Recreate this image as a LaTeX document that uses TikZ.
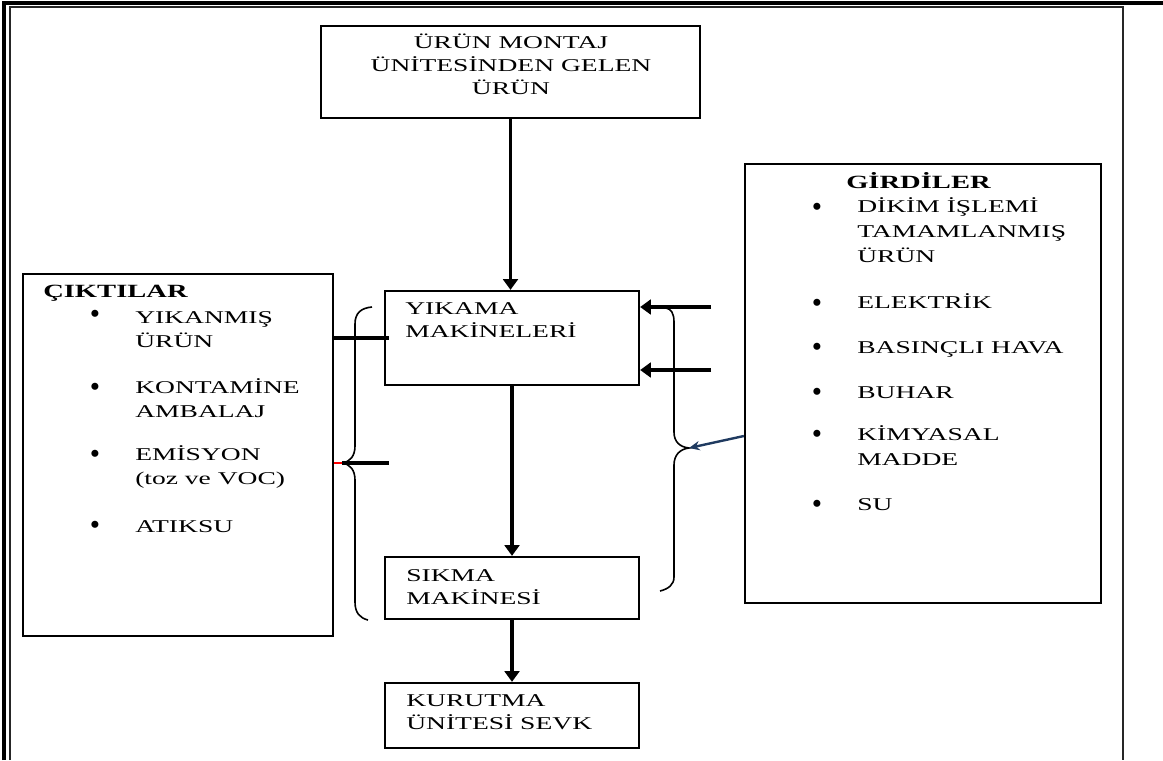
\documentclass[tikz,border=0pt]{standalone}
\usepackage{fontspec}
\setmainfont{Liberation Serif}[FakeStretch=1.53]
\newfontfamily\bulletfont{Liberation Serif}
\usetikzlibrary{arrows.meta,fit}
\definecolor{navy}{HTML}{1F3A60}
\tikzset{
  box/.style={draw=black, line width=1.7pt, inner sep=0pt, fill=none},
  txt/.style={inner sep=0pt, anchor=base west, font=\fontsize{13.5pt}{17.5pt}\selectfont},
  ctxt/.style={inner sep=0pt, anchor=base, font=\fontsize{13.5pt}{17.5pt}\selectfont},
  listtxt/.style={txt, font=\fontsize{13.5pt}{18pt}\selectfont},
  girtxt/.style={txt, font=\fontsize{13.5pt}{19pt}\selectfont},
  head/.style={inner sep=0pt, anchor=base west, font=\fontsize{14pt}{17pt}\selectfont\bfseries},
  bul/.style={inner sep=0pt, anchor=base, text height=9pt, text depth=0pt, font=\bulletfont\fontsize{22pt}{22pt}\selectfont},
  flow/.style={line width=2.8pt, -{Triangle[length=8pt,width=11pt]}},
  plain/.style={line width=2.3pt},
  bracel/.style={line width=1.2pt, black},
  bluearr/.style={line width=1.8pt, navy, -{Stealth[length=8pt,width=7pt]}},
}
\begin{document}
\begin{tikzpicture}[x=0.75pt,y=-0.75pt]
\useasboundingbox (0,0) rectangle (1163,760);
% page frame
\draw[line width=2.4pt] (4,760) -- (4,3) -- (1163,3);
\draw[line width=1.5pt, black!85] (10,760) -- (10,7) -- (1123,7) -- (1123,760);

% boxes
\node[box, fit={(321,26) (700,118)}] (top) {};
\node[box, fit={(385,291) (639,385)}] (yik) {};
\node[box, fit={(385,557) (639,619)}] (sik) {};
\node[box, fit={(385,683) (639,748)}] (kur) {};
\node[box, fit={(23,274) (333,636)}] (cik) {};
\node[box, fit={(745,164) (1101,603)}] (gir) {};

% texts
\node[ctxt] (t1) at (511,48) {ÜRÜN MONTAJ};
\node[ctxt] (t2) at (511,71) {ÜNİTESİNDEN GELEN};
\node[ctxt] (t3) at (511,94) {ÜRÜN};
\node[txt] (yikt) at (405,314) {\vtop{\hbox{YIKAMA}\hbox{MAKİNELERİ}}};
\node[txt] (sikt) at (406,581) {\vtop{\hbox{SIKMA}\hbox{MAKİNESİ}}};
\node[txt] (kurt) at (406,706) {\vtop{\hbox{KURUTMA}\hbox{ÜNİTESİ SEVK}}};

% outputs
\node[head] (cikh) at (43,297) {ÇIKTILAR};
\node[bul] (cb1) at (95,323) {•};
\node[listtxt] (ci1) at (135,323) {\vtop{\hbox{YIKANMIŞ}\hbox{ÜRÜN}}};
\node[bul] (cb2) at (95,396) {•};
\node[listtxt] (ci2) at (135,393) {\vtop{\hbox{KONTAMİNE}\hbox{AMBALAJ}}};
\node[bul] (cb3) at (95,463) {•};
\node[listtxt] (ci3) at (135,460) {\vtop{\hbox{EMİSYON}\hbox{(toz ve VOC)}}};
\node[bul] (cb4) at (95,534) {•};
\node[listtxt] (ci4) at (135,532) {ATIKSU};

% inputs
\node[head] (girh) at (846,188) {GİRDİLER};
\node[bul] (gb1) at (817,216) {•};
\node[girtxt] (gi1) at (857,212) {\vtop{\hbox{DİKİM İŞLEMİ}\hbox{TAMAMLANMIŞ}\hbox{ÜRÜN}}};
\node[bul] (gb2) at (817,312) {•};
\node[girtxt] (gi2) at (857,308) {ELEKTRİK};
\node[bul] (gb3) at (817,356) {•};
\node[girtxt] (gi3) at (857,353) {BASINÇLI HAVA};
\node[bul] (gb4) at (817,401) {•};
\node[girtxt] (gi4) at (857,398) {BUHAR};
\node[bul] (gb5) at (817,443) {•};
\node[girtxt] (gi5) at (857,440) {\vtop{\hbox{KİMYASAL}\hbox{MADDE}}};
\node[bul] (gb6) at (817,513) {•};
\node[girtxt] (gi6) at (857,510) {SU};

% main flow
\draw[flow] (top.south) -- (top.south |- yik.north);
\draw[flow] (yik.south) -- (yik.south |- sik.north);
\draw[flow] (sik.south) -- (sik.south |- kur.north);

% input arrows to washing machines
\coordinate (in1) at (711,307);
\coordinate (in2) at (711,370);
\draw[flow] (in1) -- (in1 -| yik.east);
\draw[flow] (in2) -- (in2 -| yik.east);

% output line
\coordinate (o1) at (389,338);
\draw[plain] (cik.east |- o1) -- (o1);

% left brace
\coordinate (lt) at (342,463);
\coordinate (le) at (389,463);
\draw[bracel] (372,307) .. controls (361,308) and (355,313) .. (355,324) -- (355,446)
  .. controls (355,456) and (350,462) .. (lt)
  .. controls (350,464) and (355,470) .. (355,480) -- (355,602)
  .. controls (355,613) and (360,618) .. (368,620);
\draw[plain] (lt) -- (le);
\draw[red, line width=1.8pt] (cik.east |- lt) -- (lt);

% right brace
\coordinate (rt) at (689,448);
\draw[bracel] (666,308) .. controls (671,309) and (674,313) .. (674,322) -- (674,432)
  .. controls (674,442) and (680,447) .. (rt)
  .. controls (680,449) and (674,455) .. (674,465) -- (674,577)
  .. controls (674,585) and (668,589) .. (660,591);
\coordinate (gs) at (0,436);
\draw[bluearr] (gir.west |- gs) -- (rt);
\end{tikzpicture}
\end{document}
